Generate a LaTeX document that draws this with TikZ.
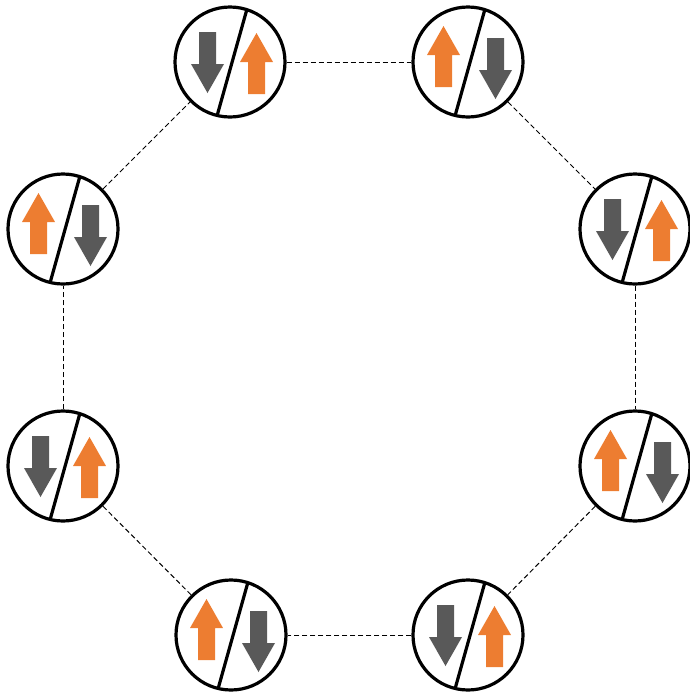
\documentclass[tikz,border=0pt]{standalone}
\definecolor{orng}{HTML}{ED7D31}
\definecolor{gry}{HTML}{595959}
\newcommand\UpArr[2]{\fill[orng] ({#1-8.5},{#2+61}) -- ({#1-8.5},{#2+29}) -- ({#1-16.5},{#2+29}) -- (#1,#2) -- ({#1+16.5},{#2+29}) -- ({#1+8.5},{#2+29}) -- ({#1+8.5},{#2+61}) -- cycle;}
\newcommand\DownArr[2]{\fill[gry] ({#1-8.5},#2) -- ({#1-8.5},{#2+32}) -- ({#1-16.5},{#2+32}) -- (#1,{#2+61}) -- ({#1+16.5},{#2+32}) -- ({#1+8.5},{#2+32}) -- ({#1+8.5},#2) -- cycle;}
\newcommand\GrayLeft[1]{\begin{scope}[shift={(#1.center)}]
\DownArr{-22.5}{-30}\UpArr{26.5}{-29}
\draw[slash] (17,-53) -- (-13,54);
\end{scope}}
\newcommand\OrangeLeft[1]{\begin{scope}[shift={(#1.center)}]
\UpArr{-24.5}{-36}\DownArr{27.5}{-24}
\draw[slash] (17,-53) -- (-13,54);
\end{scope}}
\tikzset{
  spin/.style={circle, draw=black, line width=3.2pt, minimum size=110pt, inner sep=0pt},
  slash/.style={line width=3.2pt, black},
  link/.style={draw=black, line width=1pt, dash pattern=on 5pt off 3pt}
}
\begin{document}
\begin{tikzpicture}[x=1pt,y=-1pt]
\useasboundingbox (0,0) rectangle (690,694);
\node[spin] (A) at (230,62) {};
\node[spin] (B) at (468,62) {};
\node[spin] (C) at (635,229) {};
\node[spin] (D) at (635,466) {};
\node[spin] (E) at (468,635) {};
\node[spin] (F) at (231,635) {};
\node[spin] (G) at (63,466) {};
\node[spin] (H) at (63,229) {};
\draw[link] (A) -- (B);
\draw[link] (B) -- (C);
\draw[link] (C) -- (D);
\draw[link] (D) -- (E);
\draw[link] (E) -- (F);
\draw[link] (F) -- (G);
\draw[link] (G) -- (H);
\draw[link] (H) -- (A);
\GrayLeft{A}
\OrangeLeft{B}
\GrayLeft{C}
\OrangeLeft{D}
\GrayLeft{E}
\OrangeLeft{F}
\GrayLeft{G}
\OrangeLeft{H}
\end{tikzpicture}
\end{document}
